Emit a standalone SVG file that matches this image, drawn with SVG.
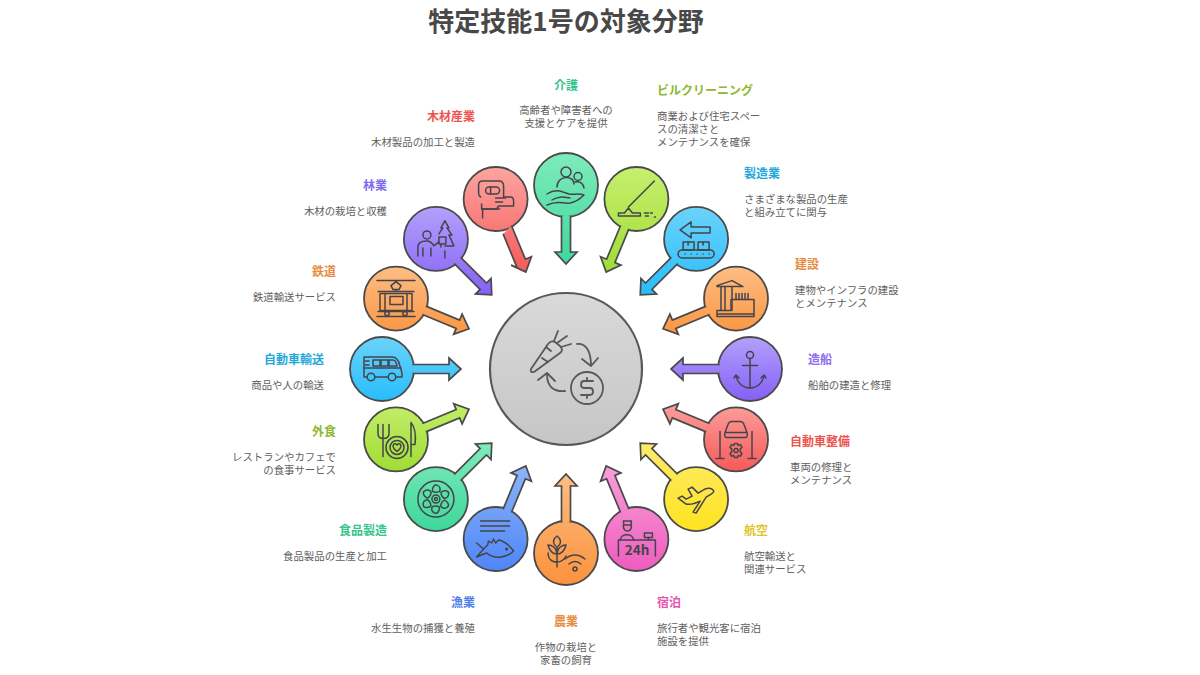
<svg xmlns="http://www.w3.org/2000/svg" width="1200" height="675" viewBox="0 0 1200 675">
<style>
text{font-family:"Noto Sans CJK JP","Noto Sans",sans-serif}
.title{font-size:26px;font-weight:700;fill:#484848}
.l{font-size:12px;font-weight:700}
.b{font-size:10.4px;fill:#606060}
.m{text-anchor:middle}.e{text-anchor:end}
.c{stroke:#4a4a4a;stroke-width:1.8}
.i{fill:none;stroke:#44444c;stroke-width:1.5;stroke-linecap:round;stroke-linejoin:round}
.a{stroke:#4a4a4a;stroke-width:1.7;stroke-linejoin:miter}
</style>
<defs>
<linearGradient id="green"><stop offset="0" stop-color="#7FEBBB"/><stop offset="1" stop-color="#3FD79C"/></linearGradient>
<linearGradient id="lime"><stop offset="0" stop-color="#C6EF6E"/><stop offset="1" stop-color="#A0DD35"/></linearGradient>
<linearGradient id="sky"><stop offset="0" stop-color="#6AD3FA"/><stop offset="1" stop-color="#28BDFC"/></linearGradient>
<linearGradient id="orange"><stop offset="0" stop-color="#FDBE85"/><stop offset="1" stop-color="#FB923C"/></linearGradient>
<linearGradient id="purple"><stop offset="0" stop-color="#B3A0FB"/><stop offset="1" stop-color="#8560F6"/></linearGradient>
<linearGradient id="red"><stop offset="0" stop-color="#FCA5A0"/><stop offset="1" stop-color="#F65A5A"/></linearGradient>
<linearGradient id="yellow"><stop offset="0" stop-color="#FDEB6A"/><stop offset="1" stop-color="#FFE320"/></linearGradient>
<linearGradient id="pink"><stop offset="0" stop-color="#F8A0D8"/><stop offset="1" stop-color="#EE5CBE"/></linearGradient>
<linearGradient id="blue"><stop offset="0" stop-color="#8CB4FA"/><stop offset="1" stop-color="#4F86F7"/></linearGradient>
<linearGradient id="grey" x1="0" x2="0" y1="0" y2="1"><stop offset="0" stop-color="#D9D9D9"/><stop offset="1" stop-color="#C6C6C6"/></linearGradient>
<linearGradient id="g0" href="#green" gradientUnits="userSpaceOnUse" x1="0" x2="0" y1="153" y2="264"/>
<linearGradient id="g1" href="#lime" gradientUnits="userSpaceOnUse" x1="0" x2="0" y1="167" y2="272"/>
<linearGradient id="g2" href="#sky" gradientUnits="userSpaceOnUse" x1="0" x2="0" y1="207" y2="295"/>
<linearGradient id="g3" href="#orange" gradientUnits="userSpaceOnUse" x1="0" x2="0" y1="266" y2="340"/>
<linearGradient id="g4" href="#purple" gradientUnits="userSpaceOnUse" x1="0" x2="0" y1="337" y2="401"/>
<linearGradient id="g5" href="#red" gradientUnits="userSpaceOnUse" x1="0" x2="0" y1="398" y2="471"/>
<linearGradient id="g6" href="#yellow" gradientUnits="userSpaceOnUse" x1="0" x2="0" y1="443" y2="531"/>
<linearGradient id="g7" href="#pink" gradientUnits="userSpaceOnUse" x1="0" x2="0" y1="466" y2="571"/>
<linearGradient id="g8" href="#orange" gradientUnits="userSpaceOnUse" x1="0" x2="0" y1="474" y2="585"/>
<linearGradient id="g9" href="#blue" gradientUnits="userSpaceOnUse" x1="0" x2="0" y1="466" y2="571"/>
<linearGradient id="g10" href="#green" gradientUnits="userSpaceOnUse" x1="0" x2="0" y1="443" y2="531"/>
<linearGradient id="g11" href="#lime" gradientUnits="userSpaceOnUse" x1="0" x2="0" y1="398" y2="471"/>
<linearGradient id="g12" href="#sky" gradientUnits="userSpaceOnUse" x1="0" x2="0" y1="337" y2="401"/>
<linearGradient id="g13" href="#orange" gradientUnits="userSpaceOnUse" x1="0" x2="0" y1="266" y2="340"/>
<linearGradient id="g14" href="#purple" gradientUnits="userSpaceOnUse" x1="0" x2="0" y1="207" y2="295"/>
<linearGradient id="g15" href="#red" gradientUnits="userSpaceOnUse" x1="0" x2="0" y1="167" y2="272"/>
<path id="petal" d="M-3.5 -8 C-4 -12 -1 -15 1 -14 C4 -13 5 -10 3.5 -7.5 C1 -6.5 -1.5 -6.5 -3.5 -8 Z"/>
</defs>
<rect width="1200" height="675" fill="#fff"/>
<text class="title m" x="566" y="31">特定技能1号の対象分野</text>

<g id="hub">
<circle cx="566" cy="369" r="76" fill="url(#grey)" stroke="#585858" stroke-width="2.2"/>
<g transform="translate(566,369)" fill="none" stroke="#585858" stroke-width="1.8" stroke-linecap="round" stroke-linejoin="round">
<path d="M-35 0 L-18 -25 Q-15 -29 -11 -27 L-6 -23 Q-2 -19 -6 -16 L-32 3 Q-36 4 -35 0 Z"/>
<path d="M-12 -28 L-8 -38 M-9 -26 L1 -33 M-5 -22 L5 -25 M-20 -22 L-15 -18 M-24 -11 L-18 -7"/>
<path d="M11 -25 C20 -26 25 -18 25 -3 M16 -10 L25 -3 L32 -11"/>
<circle cx="21" cy="19" r="16"/>
<path d="M27 12 H18 Q15 12 15 15.5 Q15 19 18 19 H24 Q27 19 27 22.5 Q27 26 24 26 H15 M21 9 V12 M21 26 V29"/>
<path d="M-1 22 C-12 23 -19 18 -19 5 M-28 11 L-19 4 L-11 12"/>
</g>
</g>

<g id="n-kaigo">
<circle class="c" cx="566" cy="185" r="32" fill="url(#g0)"/>
<g class="i" transform="translate(566,185)"><circle cx="0" cy="-13" r="5"/><path d="M-9 2 C-9 -10 8 -10 8 -1"/><circle cx="12" cy="-8.5" r="4"/><path d="M9 -3 C12 -4 17 -3 18 3"/><path d="M-19 9 C-13 5 -8 5 -3 7 L3 9 C8 10 13 8 18 10 C14 14 10 17 4 18 C-3 19 -8 15 -19 20"/><path d="M-14 15 C-8 11 -3 12 4 13"/></g>
<text class="l m" x="566" y="90" fill="#35C48E">介護</text>
<text class="b m" x="566" y="114">高齢者や障害者への</text><text class="b m" x="566" y="127">支援とケアを提供</text>
</g>

<g id="n-building">
<circle class="c" cx="636.4" cy="199" r="32" fill="url(#g1)"/>
<g class="i" transform="translate(636.4,199)"><path d="M18 -18 L-8 8"/><path d="M-18 17 V14 H-12 L-8 9 L-4 14 H4 V17 Z"/><path d="M8 14 H12 M14 14 H16 M9 17 H12 M18 18 H19"/></g>
<text class="l" x="657" y="95" fill="#8DB82F">ビルクリーニング</text>
<text class="b" x="657" y="120">商業および住宅スペー</text><text class="b" x="657" y="133">スの清潔さと</text><text class="b" x="657" y="146">メンテナンスを確保</text>
</g>

<g id="n-seizo">
<circle class="c" cx="696.1" cy="238.9" r="32" fill="url(#g2)"/>
<g class="i" transform="translate(696.1,238.9)"><path d="M-16 -9 L-5 -17 V-12 H14 V-6 H-5 V-1 Z"/><rect x="-13" y="3" width="11" height="8"/><rect x="2" y="3" width="11" height="8"/><path d="M-8 3 V6 M7 3 V6"/><rect x="-18" y="11" width="36" height="8" rx="4"/><path d="M-11 15 H-11 M-5 15 H-5 M1 15 H1 M7 15 H7 M13 15 H13"/></g>
<text class="l" x="744" y="178" fill="#1FA8DA">製造業</text>
<text class="b" x="744" y="203">さまざまな製品の生産</text><text class="b" x="744" y="216">と組み立てに関与</text>
</g>

<g id="n-kensetsu">
<circle class="c" cx="736" cy="298.600" r="32" fill="url(#g3)"/>
<g class="i" transform="translate(736,298.6)"><path d="M-19 18 V12 H-5 V1 H18 V18 Z M-19 15.500 H18"/><path d="M-19 -13 L-4 -18 L7 -12 H-19 Z M-15 -12 V12 M-11 -12 V12 M-4 -12 V12"/><path d="M0 -5 V1 M3 -5 V1 M6 -5 V1 M9 -5 V1 M12 -5 V1"/></g>
<text class="l" x="795" y="269" fill="#E68B3E">建設</text>
<text class="b" x="795" y="294">建物やインフラの建設</text><text class="b" x="795" y="307">とメンテナンス</text>
</g>

<g id="n-zosen">
<circle class="c" cx="750" cy="369" r="32" fill="url(#g4)"/>
<g class="i" transform="translate(750,369)"><circle cx="0" cy="-14" r="3.500"/><path d="M0 -10.500 V19 M-7.500 -3.500 H7.500"/><path d="M-14 6 C-13 14 -7 19 0 19 C7 19 13 14 14 6 M-16 9 L-14 6 L-11 9 M11 9 L14 6 L16 9"/></g>
<text class="l" x="808" y="364" fill="#8B6CF0">造船</text>
<text class="b" x="808" y="389">船舶の建造と修理</text>
</g>

<g id="n-seibi">
<circle class="c" cx="736" cy="439.400" r="32" fill="url(#g5)"/>
<g class="i" transform="translate(736,439.4)"><path d="M-11 -7 L-8 -15 Q-7 -18 -4 -18 H4 Q7 -18 8 -15 L11 -7 Q12 -3 10 -2 H-10 Q-12 -3 -11 -7 Z M-11 -7 H11"/><path d="M-16 -8 V19 M16 -8 V19 M-20 19 H-12 M12 19 H20"/><circle cx="0" cy="11" r="2"/><path d="M-1.500 4 H1.500 L2.200 6 L4.500 5.200 L6 7.800 L4.300 9.500 V12.500 L6 14.200 L4.500 16.800 L2.200 16 L1.500 18 H-1.500 L-2.200 16 L-4.500 16.800 L-6 14.200 L-4.300 12.500 V9.500 L-6 7.800 L-4.500 5.200 L-2.200 6 Z"/></g>
<text class="l" x="790" y="446" fill="#EF5350">自動車整備</text>
<text class="b" x="790" y="471">車両の修理と</text><text class="b" x="790" y="484">メンテナンス</text>
</g>

<g id="n-koku">
<circle class="c" cx="696.1" cy="499.100" r="32" fill="url(#g6)"/>
<g class="i" transform="translate(696.1,499.1)"><path d="M17 -9 C15 -12 10 -11 7 -9 L2 -6 L-4 -12 L-8 -10 L-4 -3 L-10 0 L-14 -3 L-18 -1 L-10 5 C-4 6 2 3 4 2 L-3 13 L0 14 L10 -2 L15 -5 C18 -7 18 -8 17 -9 Z"/></g>
<text class="l" x="744" y="535" fill="#E0C423">航空</text>
<text class="b" x="744" y="560">航空輸送と</text><text class="b" x="744" y="573">関連サービス</text>
</g>

<g id="n-shukuhaku">
<circle class="c" cx="636.4" cy="539" r="32" fill="url(#g7)"/>
<g class="i" transform="translate(636.4,539)"><path d="M-13 -18 H-5 L-5.500 -14 H-12.500 Z"/><path d="M-13 -14 C-14 -6 -4 -6 -5 -14"/><path d="M-16 1 C-16 -6 -3 -6 -3 1"/><path d="M-18 17 V1 H19 V17"/><rect x="8" y="-6" width="8" height="4.500"/><path d="M12 -1.500 V1"/></g>
<text x="637" y="555" text-anchor="middle" font-size="13.500" font-weight="700" fill="#44444c">24h</text>
<text class="l" x="657" y="607" fill="#E455B2">宿泊</text>
<text class="b" x="657" y="632">旅行者や観光客に宿泊</text><text class="b" x="657" y="645">施設を提供</text>
</g>

<g id="n-nogyo">
<circle class="c" cx="566" cy="553" r="32" fill="url(#g8)"/>
<g class="i" transform="translate(566,553)"><path d="M-9 14 V-6 M-9 -6 C-15 -10 -12 -15 -9 -17 C-6 -15 -3 -10 -9 -6 M-9 1 C-15 1 -17 -4 -18 -8 C-14 -8 -9 -5 -9 1 M-9 1 C-3 1 -1 -4 0 -8 C-4 -8 -9 -5 -9 1 M-9 9 C-15 9 -18 5 -18 0 M-9 9 C-4 9 -2 7 0 3"/><circle cx="9" cy="16" r="2"/><path d="M3 11 Q9 6 15 11 M-1 6 Q9 -2 19 6"/></g>
<text class="l m" x="566" y="626" fill="#E68B3E">農業</text>
<text class="b m" x="566" y="651">作物の栽培と</text><text class="b m" x="566" y="664">家畜の飼育</text>
</g>

<g id="n-gyogyo">
<circle class="c" cx="495.600" cy="539" r="32" fill="url(#g9)"/>
<g class="i" transform="translate(495.6,539)"><path d="M-15 -18 H14 M-15 -13 H14 M-15 -8 H9"/><path d="M-19 4 L-12 10 L-19 18 L-9 14 C-2 20 10 20 18 12 C13 5 6 1 3 1 L0 4 L-2 0 L-4 4 L-7 2 L-8 6 L-12 10"/><circle cx="11" cy="10" r=".8"/></g>
<text class="l e" x="475" y="607" fill="#4F80E8">漁業</text>
<text class="b e" x="475" y="632">水生生物の捕獲と養殖</text>
</g>

<g id="n-shokuhin">
<circle class="c" cx="435.900" cy="499.100" r="32" fill="url(#g10)"/>
<g class="i" transform="translate(435.9,499.1)"><circle r="18"/><circle r="4"/><circle r="1.500"/><use href="#petal"/><use href="#petal" transform="rotate(60)"/><use href="#petal" transform="rotate(120)"/><use href="#petal" transform="rotate(180)"/><use href="#petal" transform="rotate(240)"/><use href="#petal" transform="rotate(300)"/></g>
<text class="l e" x="387" y="535" fill="#35C48E">食品製造</text>
<text class="b e" x="387" y="560">食品製品の生産と加工</text>
</g>

<g id="n-gaishoku">
<circle class="c" cx="396" cy="439.400" r="32" fill="url(#g11)"/>
<g class="i" transform="translate(396,439.4)"><path d="M-18 -15 V-6 Q-18 -1 -13 -1 Q-7 -1 -7 -6 V-15 M-13 -15 V17"/><circle cx="1" cy="8" r="11"/><circle cx="1" cy="8" r="7"/><path d="M1 12 C-6 7 -2 2 1 5.500 C4 2 8 7 1 12 Z"/><path d="M15 17 V-17 C19 -12 20 -3 19 5 H15"/></g>
<text class="l e" x="336" y="436" fill="#8DB82F">外食</text>
<text class="b e" x="336" y="461">レストランやカフェで</text><text class="b e" x="336" y="474">の食事サービス</text>
</g>

<g id="n-jidosha">
<circle class="c" cx="382" cy="369" r="32" fill="url(#g12)"/>
<g class="i" transform="translate(382,369)"><path d="M-18 8 V-12 H10 Q16 -12 18 -3 L20 4 V8 H14 M6 8 H-7 M-15 8 H-18"/><circle cx="-11" cy="8" r="3.800"/><circle cx="10" cy="8" r="3.800"/><path d="M-18 -1 H19"/><rect x="-9" y="-9" width="7" height="6"/><rect x="-1" y="-9" width="7" height="6"/><path d="M7 -9 H11 Q14 -9 15 -3 H7 Z M-17 -8 H-13 M-17 -4 H-13"/></g>
<text class="l e" x="324" y="364" fill="#1FA8DA">自動車輸送</text>
<text class="b e" x="324" y="389">商品や人の輸送</text>
</g>

<g id="n-tetsudo">
<circle class="c" cx="396" cy="298.600" r="32" fill="url(#g13)"/>
<g class="i" transform="translate(396,298.6)"><path d="M-19 -18 H19 M-19 18 H19 M-5 -13 L0 -17 L5 -13 L3 -9 H-3 Z M-18 -7 H18 M0 -9 V-7"/><rect x="-16" y="-5" width="32" height="17"/><rect x="-6" y="-2" width="13" height="8"/><path d="M-11 -5 V12 M11 -5 V12 M-18 13 H18"/><circle cx="-9" cy="15" r="2.200"/><circle cx="9" cy="15" r="2.200"/></g>
<text class="l e" x="336" y="276" fill="#E68B3E">鉄道</text>
<text class="b e" x="336" y="301">鉄道輸送サービス</text>
</g>

<g id="n-ringyo">
<circle class="c" cx="435.900" cy="238.900" r="32" fill="url(#g14)"/>
<g class="i" transform="translate(435.9,238.9)"><circle cx="-9" cy="-4" r="4"/><path d="M-18 17 V8 Q-18 2 -9 2 Q-5 2 -2 7 L3 3 M-13 9 V17 M-5 9 V17"/><path d="M3 -2 H10 V5 H3 Z M5 5 V8"/><path d="M9 -18 L13 -11 H11 L16 -4 H13 L18 7 H9 M9 -18 L5 -11 H7 L3 -5"/><path d="M9 12 V19"/></g>
<text class="l e" x="387" y="190" fill="#7E6BF0">林業</text>
<text class="b e" x="387" y="215">木材の栽培と収穫</text>
</g>

<g id="n-mokuzai">
<circle class="c" cx="495.600" cy="199" r="32" fill="url(#g15)"/>
<g class="i" transform="translate(495.6,199)"><path d="M-15 -2 Q-17 -3 -17 -6 V-14 Q-17 -18 -13 -18 H3 Q8 -18 8 -13 V-2 H15 Q18 -2 18 2 V7 H3 L1 10 H-14 V5"/><path d="M-14 10 H4 M-13 10 V19"/><rect x="-10" y="-12" width="14" height="7" rx="3.500"/><path d="M-5 -12 V-5 M0 -1 H10 M0 3 H7"/></g>
<text class="l e" x="475" y="121" fill="#EF5350">木材産業</text>
<text class="b e" x="475" y="146">木材製品の加工と製造</text>
</g>

<g id="connectors" class="a">
<path fill="url(#g0)" d="M570.500 215.500l0 36.500l6.500 0l-11 12l-11 -12l6.500 0l0 -36.500"/>
<path fill="url(#g1)" d="M628.900 228.900l-13.970 33.720l6 2.490l-14.750 6.880l-5.570 -15.300l6 2.490l13.970 -33.720"/>
<path fill="url(#g2)" d="M677.720 263.640l-25.810 25.810l4.600 4.600l-16.260 .71l.71 -16.260l4.600 4.600l25.810 -25.810"/>
<path fill="url(#g3)" d="M709.540 314.420l-33.720 13.970l2.490 6l-15.300 -5.570l6.880 -14.750l2.490 6l33.720 -13.970"/>
<path fill="url(#g4)" d="M719.500 373.500l-36.500 0l0 6.500l-12 -11l12 -11l0 6.500l36.500 0"/>
<path fill="url(#g5)" d="M706.100 431.900l-33.720 -13.970l-2.490 6l-6.880 -14.750l15.300 -5.570l-2.490 6l33.720 13.970"/>
<path fill="url(#g6)" d="M671.360 480.720l-25.810 -25.810l-4.600 4.600l-.71 -16.270l16.260 .71l-4.600 4.600l25.810 25.810"/>
<path fill="url(#g7)" d="M620.580 512.540l-13.970 -33.720l-6 2.490l5.570 -15.300l14.750 6.880l-6 2.490l13.970 33.720"/>
<path fill="url(#g8)" d="M561.500 522.500l0 -36.500l-6.500 0l11 -12l11 12l-6.500 0l0 36.500"/>
<path fill="url(#g9)" d="M503.100 509.100l13.970 -33.720l-6 -2.490l14.750 -6.880l5.570 15.300l-6 -2.490l-13.970 33.720"/>
<path fill="url(#g10)" d="M454.280 474.360l25.810 -25.810l-4.600 -4.600l16.270 -.71l-.71 16.260l-4.600 -4.600l-25.810 25.810"/>
<path fill="url(#g11)" d="M422.460 423.580l33.720 -13.970l-2.490 -6l15.300 5.570l-6.880 14.750l-2.490 -6l-33.720 13.970"/>
<path fill="url(#g12)" d="M412.500 364.500l36.500 0l0 -6.500l12 11l-12 11l0 -6.500l-36.500 0"/>
<path fill="url(#g13)" d="M425.900 306.100l33.720 13.970l2.490 -6l6.880 14.750l-15.300 5.570l2.490 -6l-33.720 -13.970"/>
<path fill="url(#g14)" d="M460.640 257.280l25.810 25.810l4.600 -4.600l.71 16.270l-16.260 -.71l4.600 -4.600l-25.810 -25.810"/>
<path fill="url(#g15)" d="M511.420 225.460l13.970 33.720l6 -2.490l-5.570 15.300l-14.750 -6.880l6 2.490l-13.970 -33.720"/>
</g>
</svg>
